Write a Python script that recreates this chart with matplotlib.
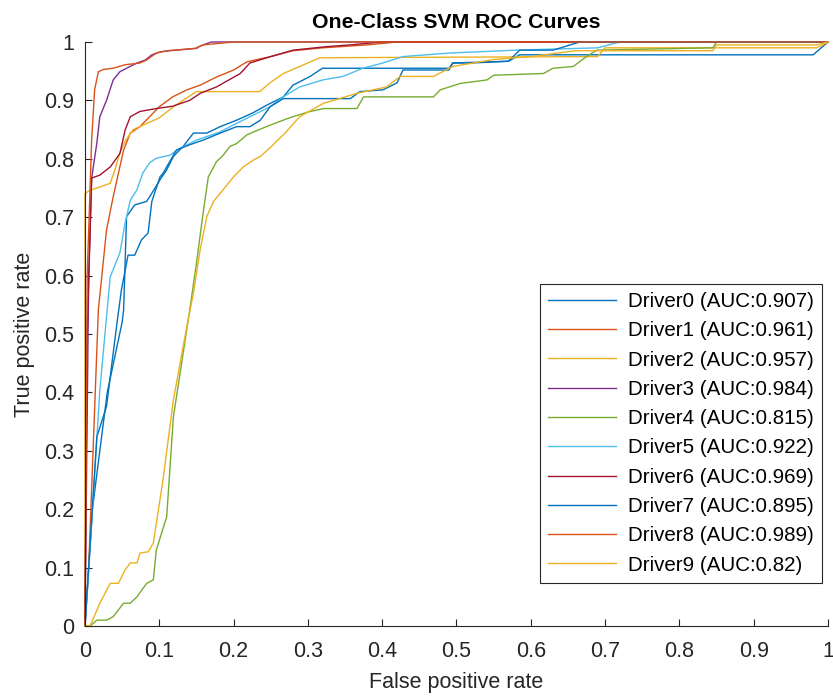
import matplotlib
matplotlib.use('Agg')
import matplotlib.pyplot as plt

plt.rcParams['font.family'] = ['Liberation Sans', 'DejaVu Sans']

# ROC points (false positive rate, true positive rate)
fpr0 = [0, 0.01, 0.03, 0.05, 0.052, 0.056, 0.067, 0.083, 0.09, 0.101, 0.11, 0.119, 0.132, 0.146, 0.164, 0.182,
        0.204, 0.225, 0.245, 0.267, 0.28, 0.303, 0.316, 0.32, 0.49, 0.495, 0.57, 0.585, 0.98, 1.0]
tpr0 = [0, 0.2, 0.4, 0.52, 0.541, 0.701, 0.721, 0.727, 0.741, 0.764, 0.781, 0.804, 0.821, 0.844, 0.844, 0.855,
        0.866, 0.878, 0.892, 0.906, 0.926, 0.941, 0.952, 0.955, 0.955, 0.964, 0.967, 0.978, 0.978, 1.0]

fpr1 = [0, 0.005, 0.018, 0.029, 0.038, 0.045, 0.052, 0.061, 0.074, 0.087, 0.1, 0.118, 0.137, 0.155, 0.177,
        0.2, 0.218, 0.25, 0.28, 0.32, 0.38, 0.42, 1.0]
tpr1 = [0, 0.1, 0.541, 0.678, 0.735, 0.775, 0.815, 0.844, 0.855, 0.872, 0.889, 0.906, 0.918, 0.926, 0.94,
        0.952, 0.966, 0.975, 0.985, 0.99, 0.995, 1.0, 1.0]

fpr2 = [0, 0, 0.005, 0.034, 0.04, 0.047, 0.054, 0.065, 0.1, 0.12, 0.15, 0.235, 0.249, 0.267, 0.289, 0.316,
        0.69, 0.7, 0.985, 1.0]
tpr2 = [0, 0.74, 0.745, 0.758, 0.78, 0.81, 0.83, 0.85, 0.87, 0.89, 0.915, 0.915, 0.93, 0.946, 0.958, 0.973,
        0.975, 0.99, 0.99, 1.0]

fpr3 = [0, 0.005, 0.009, 0.016, 0.02, 0.029, 0.038, 0.047, 0.056, 0.07, 0.081, 0.09, 0.101, 0.114, 0.15,
        0.155, 0.17, 1.0]
tpr3 = [0, 0.6, 0.767, 0.827, 0.872, 0.9, 0.935, 0.949, 0.955, 0.964, 0.969, 0.978, 0.983, 0.985, 0.989,
        0.993, 1.0, 1.0]

fpr4 = [0, 0.007, 0.016, 0.029, 0.038, 0.052, 0.061, 0.07, 0.083, 0.092, 0.096, 0.11, 0.119, 0.141, 0.15,
        0.159, 0.166, 0.177, 0.186, 0.195, 0.204, 0.218, 0.227, 0.25, 0.275, 0.3, 0.321, 0.366, 0.375, 0.469,
        0.478, 0.505, 0.541, 0.55, 0.617, 0.63, 0.657, 0.675, 0.689, 0.845, 0.85, 1.0]
tpr4 = [0, 0, 0.01, 0.01, 0.016, 0.039, 0.039, 0.05, 0.073, 0.079, 0.13, 0.187, 0.358, 0.541, 0.621,
        0.707, 0.769, 0.795, 0.806, 0.821, 0.826, 0.841, 0.846, 0.858, 0.87, 0.88, 0.886, 0.886, 0.906, 0.906,
        0.918, 0.929, 0.935, 0.943, 0.946, 0.955, 0.958, 0.975, 0.986, 0.99, 1.0, 1.0]

fpr5 = [0, 0.004, 0.02, 0.034, 0.047, 0.054, 0.061, 0.07, 0.078, 0.087, 0.096, 0.114, 0.128, 0.15, 0.18,
        0.2, 0.222, 0.249, 0.267, 0.289, 0.32, 0.347, 0.374, 0.401, 0.428, 0.49, 0.58, 0.69, 0.72, 1.0]
tpr5 = [0, 0.073, 0.404, 0.598, 0.639, 0.69, 0.729, 0.747, 0.776, 0.793, 0.801, 0.806, 0.818, 0.832, 0.845,
        0.858, 0.872, 0.889, 0.906, 0.923, 0.935, 0.941, 0.955, 0.964, 0.975, 0.981, 0.986, 0.99, 1.0, 1.0]

fpr6 = [0, 0.003, 0.009, 0.02, 0.034, 0.047, 0.054, 0.061, 0.074, 0.096, 0.118, 0.141, 0.155, 0.177, 0.209,
        0.222, 0.25, 0.28, 0.325, 0.357, 0.4, 1.0]
tpr6 = [0, 0.5, 0.767, 0.772, 0.786, 0.809, 0.849, 0.872, 0.881, 0.886, 0.89, 0.9, 0.912, 0.923, 0.946,
        0.964, 0.975, 0.986, 0.992, 0.995, 1.0, 1.0]

fpr7 = [0, 0.016, 0.029, 0.043, 0.049, 0.058, 0.067, 0.076, 0.085, 0.09, 0.101, 0.105, 0.123, 0.141, 0.159,
        0.182, 0.204, 0.222, 0.236, 0.249, 0.267, 0.357, 0.37, 0.401, 0.42, 0.428, 0.49, 0.495, 0.52, 0.57,
        0.585, 0.63, 0.666, 1.0]
tpr7 = [0, 0.324, 0.376, 0.518, 0.575, 0.635, 0.635, 0.661, 0.673, 0.727, 0.769, 0.775, 0.815, 0.824, 0.832,
        0.844, 0.855, 0.855, 0.866, 0.889, 0.903, 0.903, 0.915, 0.918, 0.93, 0.952, 0.952, 0.964, 0.964, 0.967,
        0.986, 0.986, 1.0, 1.0]

fpr8 = [0, 0.003, 0.009, 0.013, 0.018, 0.025, 0.038, 0.054, 0.074, 0.083, 0.096, 0.11, 0.148, 0.159, 0.2, 1.0]
tpr8 = [0, 0.6, 0.832, 0.918, 0.949, 0.953, 0.955, 0.961, 0.964, 0.969, 0.981, 0.985, 0.989, 0.995, 1.0, 1.0]

fpr9 = [0, 0.007, 0.02, 0.034, 0.045, 0.054, 0.061, 0.07, 0.074, 0.085, 0.092, 0.105, 0.119, 0.137, 0.146,
        0.155, 0.164, 0.173, 0.186, 0.2, 0.213, 0.227, 0.236, 0.25, 0.27, 0.289, 0.321, 0.366, 0.406, 0.424,
        0.469, 0.495, 0.55, 0.6, 0.66, 0.7, 0.845, 0.85, 0.985, 1.0]
tpr9 = [0, 0, 0.039, 0.073, 0.073, 0.096, 0.108, 0.108, 0.125, 0.127, 0.142, 0.25, 0.387, 0.512, 0.57,
        0.644, 0.701, 0.727, 0.747, 0.769, 0.786, 0.798, 0.804, 0.82, 0.845, 0.872, 0.895, 0.912, 0.923, 0.941,
        0.941, 0.958, 0.97, 0.975, 0.985, 0.985, 0.985, 0.995, 0.995, 1.0]

auc_values = ['0.907', '0.961', '0.957', '0.984', '0.815', '0.922', '0.969', '0.895', '0.989', '0.82']
tick_values = [0, 0.1, 0.2, 0.3, 0.4, 0.5, 0.6, 0.7, 0.8, 0.9, 1]
tick_labels = ['0', '0.1', '0.2', '0.3', '0.4', '0.5', '0.6', '0.7', '0.8', '0.9', '1']

# MATLAB default line colour order
colors = ['#0072BD', '#D95319', '#EDB120', '#7E2F8E', '#77AC30', '#4DBEEE', '#A2142F']

fprs = [fpr0, fpr1, fpr2, fpr3, fpr4, fpr5, fpr6, fpr7, fpr8, fpr9]
tprs = [tpr0, tpr1, tpr2, tpr3, tpr4, tpr5, tpr6, tpr7, tpr8, tpr9]

fig = plt.figure(figsize=(8.33, 6.96), dpi=100)
ax = fig.add_axes([0.102, 0.1006, 0.892, 0.8391])

for i in range(10):
    ax.plot(fprs[i], tprs[i], color=colors[i % 7], lw=1.0, clip_on=False,
            label='Driver%d (AUC:%s)' % (i, auc_values[i]))

ax.set_xlim(0, 1)
ax.set_ylim(0, 1)
ax.set_xticks(tick_values)
ax.set_xticklabels(tick_labels)
ax.set_yticks(tick_values)
ax.set_yticklabels(tick_labels)
ax.tick_params(direction='in', length=5, width=0.8, labelsize=15.5, colors='#262626')
ax.tick_params(axis='x', pad=11)
ax.tick_params(axis='y', pad=8)
ax.spines['top'].set_visible(False)
ax.spines['right'].set_visible(False)
for s in ['left', 'bottom']:
    ax.spines[s].set_color('#262626')
    ax.spines[s].set_linewidth(0.8)

ax.set_xlabel('False positive rate', fontsize=15.5, color='#262626', labelpad=7)
ax.set_ylabel('True positive rate', fontsize=15.5, color='#262626', labelpad=6)
ax.set_title('One-Class SVM ROC Curves', fontsize=15.3, fontweight='bold', pad=10)

leg = ax.legend(loc='lower right', bbox_to_anchor=(0.992, 0.074), borderaxespad=0, fontsize=14.8,
                handlelength=3.3, handletextpad=0.6, labelspacing=0.5, fancybox=False,
                framealpha=1, edgecolor='#262626', borderpad=0.4)
leg.get_frame().set_linewidth(0.8)

fig.savefig('out.png', dpi=100)
